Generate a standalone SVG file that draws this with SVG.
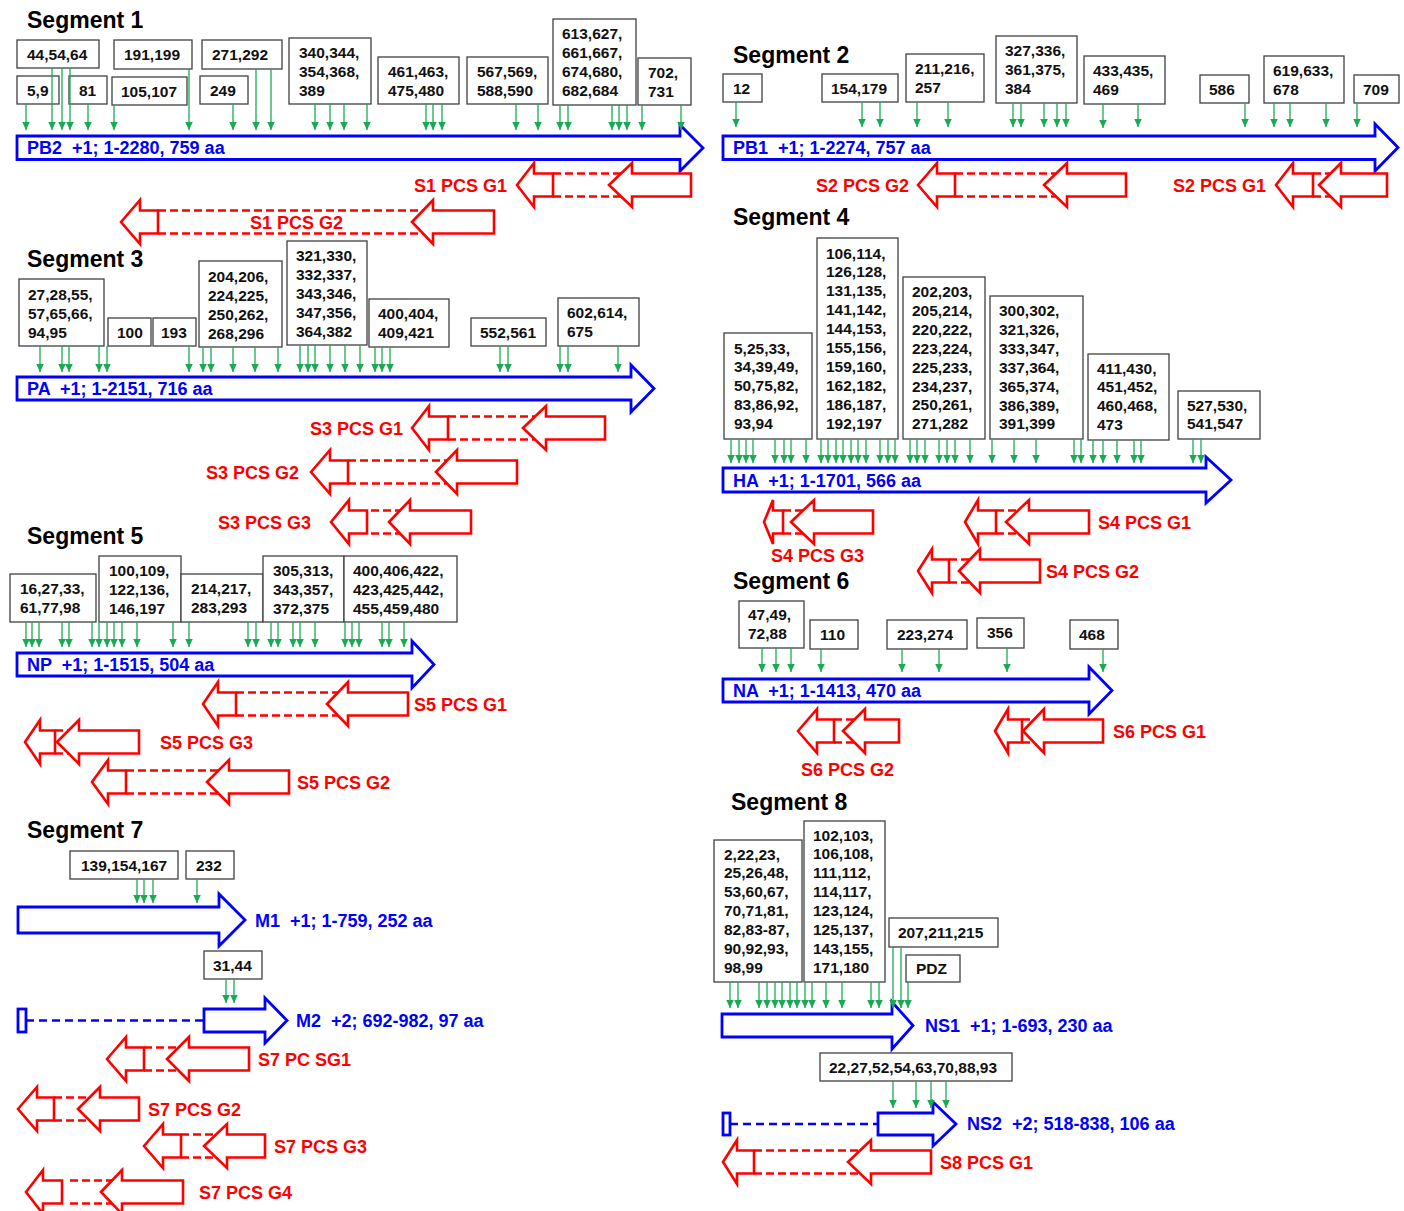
<svg xmlns="http://www.w3.org/2000/svg" width="1404" height="1211" viewBox="0 0 1404 1211">
<defs>
<marker id="gh" markerUnits="userSpaceOnUse" markerWidth="9" markerHeight="8" refX="8.5" refY="4" orient="auto">
<path d="M0,0 L8.5,4 L0,8 z" fill="#1aaa55"/>
</marker>
<style>
.title{font:bold 23px "Liberation Sans",Arial,sans-serif;fill:#000}
.box{fill:#fff;stroke:#404040;stroke-width:1.3}
.bt{font:bold 15.5px "Liberation Sans",Arial,sans-serif;fill:#111}
.gene{fill:none;stroke:#0000ff;stroke-width:2.8;stroke-linejoin:miter}
.gdash{fill:none;stroke:#0000ff;stroke-width:2.5;stroke-dasharray:8 5}
.gt{font:bold 18px "Liberation Sans",Arial,sans-serif;fill:#0000ff;white-space:pre}
.pcs{fill:none;stroke:#ff0000;stroke-width:2.6;stroke-linejoin:miter}
.pdash{fill:none;stroke:#ff0000;stroke-width:2.4;stroke-dasharray:8 4}
.pt{font:bold 18px "Liberation Sans",Arial,sans-serif;fill:#ff0000}
.ga{stroke:#1aaa55;stroke-width:1.3;marker-end:url(#gh)}
</style>
</defs>
<rect width="1404" height="1211" fill="#fff"/>

<!-- titles -->
<g id="titles">
<text class="title" x="27" y="28">Segment 1</text>
<text class="title" x="733" y="63">Segment 2</text>
<text class="title" x="27" y="267">Segment 3</text>
<text class="title" x="733" y="225">Segment 4</text>
<text class="title" x="27" y="544">Segment 5</text>
<text class="title" x="733" y="589">Segment 6</text>
<text class="title" x="27" y="838">Segment 7</text>
<text class="title" x="731" y="810">Segment 8</text>
</g>

<!-- Segment 1 boxes -->
<g id="s1-b1"><rect class="box" x="17" y="40" width="82" height="28"/><text class="bt" x="27" y="59.5">44,54,64</text></g>
<g id="s1-b2"><rect class="box" x="114" y="40" width="78" height="29"/><text class="bt" x="124" y="59.5">191,199</text></g>
<g id="s1-b3"><rect class="box" x="202" y="40" width="80" height="29"/><text class="bt" x="212" y="59.5">271,292</text></g>
<g id="s1-b4"><rect class="box" x="289" y="38" width="82" height="66"/><text class="bt" x="299" y="57.5">340,344,</text><text class="bt" x="299" y="76.5">354,368,</text><text class="bt" x="299" y="95.5">389</text></g>
<g id="s1-b5"><rect class="box" x="17" y="76" width="42" height="28"/><text class="bt" x="27" y="95.5">5,9</text></g>
<g id="s1-b6"><rect class="box" x="69" y="76" width="38" height="28"/><text class="bt" x="79" y="95.5">81</text></g>
<g id="s1-b7"><rect class="box" x="112" y="77" width="75" height="28"/><text class="bt" x="121" y="96.5">105,107</text></g>
<g id="s1-b8"><rect class="box" x="200" y="76" width="48" height="28"/><text class="bt" x="210" y="95.5">249</text></g>
<g id="s1-b9"><rect class="box" x="378" y="57" width="81" height="47"/><text class="bt" x="388" y="76.5">461,463,</text><text class="bt" x="388" y="95.5">475,480</text></g>
<g id="s1-b10"><rect class="box" x="467" y="57" width="81" height="47"/><text class="bt" x="477" y="76.5">567,569,</text><text class="bt" x="477" y="95.5">588,590</text></g>
<g id="s1-b11"><rect class="box" x="553" y="19" width="83" height="86"/><text class="bt" x="562" y="38.5">613,627,</text><text class="bt" x="562" y="57.5">661,667,</text><text class="bt" x="562" y="76.5">674,680,</text><text class="bt" x="562" y="95.5">682,684</text></g>
<g id="s1-b12"><rect class="box" x="638" y="58" width="53" height="47"/><text class="bt" x="648" y="77.5">702,</text><text class="bt" x="648" y="96.5">731</text></g>

<!-- Segment 2 boxes -->
<g id="s2-b1"><rect class="box" x="723" y="74" width="39" height="28"/><text class="bt" x="733" y="93.5">12</text></g>
<g id="s2-b2"><rect class="box" x="822" y="74" width="76" height="28"/><text class="bt" x="831" y="93.5">154,179</text></g>
<g id="s2-b3"><rect class="box" x="906" y="54" width="78" height="48"/><text class="bt" x="915" y="73.5">211,216,</text><text class="bt" x="915" y="92.5">257</text></g>
<g id="s2-b4"><rect class="box" x="996" y="36" width="81" height="67"/><text class="bt" x="1005" y="55.5">327,336,</text><text class="bt" x="1005" y="74.5">361,375,</text><text class="bt" x="1005" y="93.5">384</text></g>
<g id="s2-b5"><rect class="box" x="1084" y="56" width="81" height="48"/><text class="bt" x="1093" y="75.5">433,435,</text><text class="bt" x="1093" y="94.5">469</text></g>
<g id="s2-b6"><rect class="box" x="1200" y="75" width="49" height="28"/><text class="bt" x="1209" y="94.5">586</text></g>
<g id="s2-b7"><rect class="box" x="1264" y="56" width="80" height="47"/><text class="bt" x="1273" y="75.5">619,633,</text><text class="bt" x="1273" y="94.5">678</text></g>
<g id="s2-b8"><rect class="box" x="1354" y="75" width="45" height="28"/><text class="bt" x="1363" y="94.5">709</text></g>

<!-- Segment 3 boxes -->
<g id="s3-b1"><rect class="box" x="19" y="279" width="85" height="67"/><text class="bt" x="28" y="299.5">27,28,55,</text><text class="bt" x="28" y="318.5">57,65,66,</text><text class="bt" x="28" y="337.5">94,95</text></g>
<g id="s3-b2"><rect class="box" x="108" y="318" width="43" height="28"/><text class="bt" x="117" y="337.5">100</text></g>
<g id="s3-b3"><rect class="box" x="153" y="318" width="43" height="28"/><text class="bt" x="161" y="337.5">193</text></g>
<g id="s3-b4"><rect class="box" x="199" y="261" width="83" height="86"/><text class="bt" x="208" y="281.5">204,206,</text><text class="bt" x="208" y="300.5">224,225,</text><text class="bt" x="208" y="319.5">250,262,</text><text class="bt" x="208" y="338.5">268,296</text></g>
<g id="s3-b5"><rect class="box" x="287" y="241" width="80" height="104"/><text class="bt" x="296" y="261">321,330,</text><text class="bt" x="296" y="280">332,337,</text><text class="bt" x="296" y="299">343,346,</text><text class="bt" x="296" y="318">347,356,</text><text class="bt" x="296" y="337">364,382</text></g>
<g id="s3-b6"><rect class="box" x="369" y="299" width="80" height="48"/><text class="bt" x="378" y="319">400,404,</text><text class="bt" x="378" y="338">409,421</text></g>
<g id="s3-b7"><rect class="box" x="471" y="318" width="75" height="28"/><text class="bt" x="480" y="337.5">552,561</text></g>
<g id="s3-b8"><rect class="box" x="558" y="298" width="81" height="48"/><text class="bt" x="567" y="318">602,614,</text><text class="bt" x="567" y="337">675</text></g>

<!-- Segment 4 boxes -->
<g id="s4-b1"><rect class="box" x="724" y="333" width="88" height="106"/><text class="bt" x="734" y="353.5">5,25,33,</text><text class="bt" x="734" y="372.3">34,39,49,</text><text class="bt" x="734" y="391.1">50,75,82,</text><text class="bt" x="734" y="409.9">83,86,92,</text><text class="bt" x="734" y="428.7">93,94</text></g>
<g id="s4-b2"><rect class="box" x="817" y="238" width="81" height="201"/><text class="bt" x="826" y="258.5">106,114,</text><text class="bt" x="826" y="277.4">126,128,</text><text class="bt" x="826" y="296.3">131,135,</text><text class="bt" x="826" y="315.2">141,142,</text><text class="bt" x="826" y="334.1">144,153,</text><text class="bt" x="826" y="353">155,156,</text><text class="bt" x="826" y="371.9">159,160,</text><text class="bt" x="826" y="390.8">162,182,</text><text class="bt" x="826" y="409.7">186,187,</text><text class="bt" x="826" y="428.6">192,197</text></g>
<g id="s4-b3"><rect class="box" x="903" y="277" width="82" height="162"/><text class="bt" x="912" y="297">202,203,</text><text class="bt" x="912" y="315.9">205,214,</text><text class="bt" x="912" y="334.8">220,222,</text><text class="bt" x="912" y="353.7">223,224,</text><text class="bt" x="912" y="372.6">225,233,</text><text class="bt" x="912" y="391.5">234,237,</text><text class="bt" x="912" y="410.4">250,261,</text><text class="bt" x="912" y="429.3">271,282</text></g>
<g id="s4-b4"><rect class="box" x="990" y="296" width="93" height="143"/><text class="bt" x="999" y="316">300,302,</text><text class="bt" x="999" y="334.9">321,326,</text><text class="bt" x="999" y="353.8">333,347,</text><text class="bt" x="999" y="372.7">337,364,</text><text class="bt" x="999" y="391.6">365,374,</text><text class="bt" x="999" y="410.5">386,389,</text><text class="bt" x="999" y="429.4">391,399</text></g>
<g id="s4-b5"><rect class="box" x="1088" y="354" width="81" height="86"/><text class="bt" x="1097" y="373.5">411,430,</text><text class="bt" x="1097" y="392.4">451,452,</text><text class="bt" x="1097" y="411.3">460,468,</text><text class="bt" x="1097" y="430.2">473</text></g>
<g id="s4-b6"><rect class="box" x="1178" y="391" width="82" height="48"/><text class="bt" x="1187" y="410.5">527,530,</text><text class="bt" x="1187" y="429.4">541,547</text></g>

<!-- Segment 5 boxes -->
<g id="s5-b1"><rect class="box" x="10" y="574" width="86" height="48"/><text class="bt" x="20" y="594">16,27,33,</text><text class="bt" x="20" y="613">61,77,98</text></g>
<g id="s5-b2"><rect class="box" x="99" y="556" width="82" height="66"/><text class="bt" x="109" y="575.5">100,109,</text><text class="bt" x="109" y="594.5">122,136,</text><text class="bt" x="109" y="613.5">146,197</text></g>
<g id="s5-b3"><rect class="box" x="181" y="574" width="82" height="48"/><text class="bt" x="191" y="594">214,217,</text><text class="bt" x="191" y="613">283,293</text></g>
<g id="s5-b4"><rect class="box" x="263" y="556" width="81" height="66"/><text class="bt" x="273" y="575.5">305,313,</text><text class="bt" x="273" y="594.5">343,357,</text><text class="bt" x="273" y="613.5">372,375</text></g>
<g id="s5-b5"><rect class="box" x="344" y="556" width="113" height="66"/><text class="bt" x="353" y="575.5">400,406,422,</text><text class="bt" x="353" y="594.5">423,425,442,</text><text class="bt" x="353" y="613.5">455,459,480</text></g>

<!-- Segment 6 boxes -->
<g id="s6-b1"><rect class="box" x="739" y="601" width="65" height="47"/><text class="bt" x="748" y="619.5">47,49,</text><text class="bt" x="748" y="638.5">72,88</text></g>
<g id="s6-b2"><rect class="box" x="810" y="620" width="48" height="29"/><text class="bt" x="820" y="639.5">110</text></g>
<g id="s6-b3"><rect class="box" x="887" y="620" width="80" height="29"/><text class="bt" x="897" y="639.5">223,274</text></g>
<g id="s6-b4"><rect class="box" x="977" y="618" width="47" height="30"/><text class="bt" x="987" y="637.5">356</text></g>
<g id="s6-b5"><rect class="box" x="1070" y="620" width="48" height="29"/><text class="bt" x="1079" y="639.5">468</text></g>

<!-- Segment 7 boxes -->
<g id="s7-b1"><rect class="box" x="70" y="851" width="108" height="28"/><text class="bt" x="81" y="870.5">139,154,167</text></g>
<g id="s7-b2"><rect class="box" x="186" y="851" width="48" height="28"/><text class="bt" x="196" y="870.5">232</text></g>
<g id="s7-b3"><rect class="box" x="204" y="951" width="58" height="28"/><text class="bt" x="213" y="970.5">31,44</text></g>

<!-- Segment 8 boxes -->
<g id="s8-b1"><rect class="box" x="714" y="840" width="88" height="142"/><text class="bt" x="724" y="859.5">2,22,23,</text><text class="bt" x="724" y="878.4">25,26,48,</text><text class="bt" x="724" y="897.3">53,60,67,</text><text class="bt" x="724" y="916.2">70,71,81,</text><text class="bt" x="724" y="935.1">82,83-87,</text><text class="bt" x="724" y="954">90,92,93,</text><text class="bt" x="724" y="972.9">98,99</text></g>
<g id="s8-b2"><rect class="box" x="804" y="821" width="81" height="161"/><text class="bt" x="813" y="840.5">102,103,</text><text class="bt" x="813" y="859.4">106,108,</text><text class="bt" x="813" y="878.3">111,112,</text><text class="bt" x="813" y="897.2">114,117,</text><text class="bt" x="813" y="916.1">123,124,</text><text class="bt" x="813" y="935">125,137,</text><text class="bt" x="813" y="953.9">143,155,</text><text class="bt" x="813" y="972.8">171,180</text></g>
<g id="s8-b3"><rect class="box" x="889" y="918" width="109" height="29"/><text class="bt" x="898" y="937.5">207,211,215</text></g>
<g id="s8-b4"><rect class="box" x="906" y="955" width="54" height="27"/><text class="bt" x="916" y="974">PDZ</text></g>
<g id="s8-b5"><rect class="box" x="820" y="1053" width="192" height="28"/><text class="bt" x="829" y="1072.5">22,27,52,54,63,70,88,93</text></g>

<!-- genes (blue) -->
<g id="gene-PB2"><polygon class="gene" points="17,136 680,136 680,125 703,148 680,171 680,159.5 17,159.5"/><text class="gt" x="27" y="154">PB2  +1; 1-2280, 759 aa</text></g>
<g id="gene-PB1"><polygon class="gene" points="723,136 1375,136 1375,124 1398,147.5 1375,171 1375,159.5 723,159.5"/><text class="gt" x="733" y="154">PB1  +1; 1-2274, 757 aa</text></g>
<g id="gene-PA"><polygon class="gene" points="17,377 631,377 631,365 654,388.5 631,412 631,400 17,400"/><text class="gt" x="27" y="395">PA  +1; 1-2151, 716 aa</text></g>
<g id="gene-HA"><polygon class="gene" points="723,468 1206,468 1206,457 1231,480 1206,503 1206,492 723,492"/><text class="gt" x="733" y="487">HA  +1; 1-1701, 566 aa</text></g>
<g id="gene-NP"><polygon class="gene" points="17,653 412,653 412,641 434,664.5 412,688 412,676 17,676"/><text class="gt" x="27" y="671">NP  +1; 1-1515, 504 aa</text></g>
<g id="gene-NA"><polygon class="gene" points="723,679 1089,679 1089,667 1112,690.5 1089,714 1089,702 723,702"/><text class="gt" x="733" y="697">NA  +1; 1-1413, 470 aa</text></g>
<g id="gene-M1"><polygon class="gene" points="18,907 219,907 219,894 245,920 219,946 219,933 18,933"/><text class="gt" x="255" y="927">M1  +1; 1-759, 252 aa</text></g>
<g id="gene-M2"><rect class="gene" x="18" y="1009" width="8" height="23"/><line class="gdash" x1="26" y1="1020.5" x2="204" y2="1020.5"/><polygon class="gene" points="204,1009 265,1009 265,998 287,1020.5 265,1043 265,1032 204,1032"/><text class="gt" x="296" y="1027">M2  +2; 692-982, 97 aa</text></g>
<g id="gene-NS1"><polygon class="gene" points="722,1014 892,1014 892,1002 913,1025.5 892,1049 892,1037 722,1037"/><text class="gt" x="925" y="1032">NS1  +1; 1-693, 230 aa</text></g>
<g id="gene-NS2"><rect class="gene" x="723" y="1113" width="7" height="22"/><line class="gdash" x1="730" y1="1124" x2="878" y2="1124"/><polygon class="gene" points="878,1113 933,1113 933,1102 956,1124 933,1146 933,1135 878,1135"/><text class="gt" x="967" y="1130">NS2  +2; 518-838, 106 aa</text></g>

<!-- PCS (red) -->
<g id="pcs-S1G1"><polygon class="pcs" points="517,185 534,163 534,173.5 553,173.5 553,196.5 534,196.5 534,207"/><path class="pdash" d="M553,173.5H621M553,196.5H621"/><polygon class="pcs" points="609,185 632,163 632,173.5 691,173.5 691,196.5 632,196.5 632,207"/><text class="pt" x="507" y="191.5" text-anchor="end">S1 PCS G1</text></g>
<g id="pcs-S1G2"><polygon class="pcs" points="121,222 140,200 140,210.5 158,210.5 158,233.5 140,233.5 140,244"/><path class="pdash" d="M158,210.5H423M158,233.5H423"/><polygon class="pcs" points="412,222 433,200 433,210.5 494,210.5 494,233.5 433,233.5 433,244"/><text class="pt" x="250" y="228.5">S1 PCS G2</text></g>
<g id="pcs-S2G2"><polygon class="pcs" points="918,185 937,163 937,173.5 955,173.5 955,196.5 937,196.5 937,207"/><path class="pdash" d="M955,173.5H1056M955,196.5H1056"/><polygon class="pcs" points="1044,185 1067,163 1067,173.5 1126,173.5 1126,196.5 1067,196.5 1067,207"/><text class="pt" x="909" y="191.5" text-anchor="end">S2 PCS G2</text></g>
<g id="pcs-S2G1"><polygon class="pcs" points="1276,185 1293,163 1293,173.5 1313,173.5 1313,196.5 1293,196.5 1293,207"/><path class="pdash" d="M1313,173.5H1330M1313,196.5H1330"/><polygon class="pcs" points="1319,185 1341,163 1341,173.5 1387,173.5 1387,196.5 1341,196.5 1341,207"/><text class="pt" x="1266" y="191.5" text-anchor="end">S2 PCS G1</text></g>
<g id="pcs-S3G1"><polygon class="pcs" points="412,428 429,406 429,416.5 448,416.5 448,439.5 429,439.5 429,450"/><path class="pdash" d="M448,416.5H535M448,439.5H535"/><polygon class="pcs" points="523,428 546,406 546,416.5 605,416.5 605,439.5 546,439.5 546,450"/><text class="pt" x="403" y="434.5" text-anchor="end">S3 PCS G1</text></g>
<g id="pcs-S3G2"><polygon class="pcs" points="311,472 330,450 330,460.5 348,460.5 348,483.5 330,483.5 330,494"/><path class="pdash" d="M348,460.5H447M348,483.5H447"/><polygon class="pcs" points="436,472 457,450 457,460.5 517,460.5 517,483.5 457,483.5 457,494"/><text class="pt" x="299" y="478.5" text-anchor="end">S3 PCS G2</text></g>
<g id="pcs-S3G3"><polygon class="pcs" points="331,522 349,500 349,510.5 367,510.5 367,533.5 349,533.5 349,544"/><path class="pdash" d="M371,510.5H400M371,533.5H400"/><polygon class="pcs" points="389,522 410,500 410,510.5 471,510.5 471,533.5 410,533.5 410,544"/><text class="pt" x="311" y="528.5" text-anchor="end">S3 PCS G3</text></g>
<g id="pcs-S4G1"><polygon class="pcs" points="965,522 978,500 978,510.5 996,510.5 996,533.5 978,533.5 978,544"/><path class="pdash" d="M996,510.5H1018M996,533.5H1018"/><polygon class="pcs" points="1006,522 1029,500 1029,510.5 1089,510.5 1089,533.5 1029,533.5 1029,544"/><text class="pt" x="1098" y="528.5">S4 PCS G1</text></g>
<g id="pcs-S4G3"><polygon class="pcs" points="764,522 773,500 773,510.5 783,510.5 783,533.5 773,533.5 773,544"/><path class="pdash" d="M783,510.5H803M783,533.5H803"/><polygon class="pcs" points="791,522 814,500 814,510.5 873,510.5 873,533.5 814,533.5 814,544"/><text class="pt" x="771" y="562">S4 PCS G3</text></g>
<g id="pcs-S4G2"><polygon class="pcs" points="918,571 932,549 932,559.5 949,559.5 949,582.5 932,582.5 932,593"/><path class="pdash" d="M949,559.5H970M949,582.5H970"/><polygon class="pcs" points="959,571 980,549 980,559.5 1040,559.5 1040,582.5 980,582.5 980,593"/><text class="pt" x="1046" y="577.5">S4 PCS G2</text></g>
<g id="pcs-S5G1"><polygon class="pcs" points="203,704 218,682 218,692.5 236,692.5 236,715.5 218,715.5 218,726"/><path class="pdash" d="M236,692.5H338M236,715.5H338"/><polygon class="pcs" points="327,704 348,682 348,692.5 408,692.5 408,715.5 348,715.5 348,726"/><text class="pt" x="414" y="710.5">S5 PCS G1</text></g>
<g id="pcs-S5G3"><polygon class="pcs" points="25,742 40,720 40,730.5 55,730.5 55,753.5 40,753.5 40,764"/><path class="pdash" d="M55,730.5H68M55,753.5H68"/><polygon class="pcs" points="57,742 79,720 79,730.5 139,730.5 139,753.5 79,753.5 79,764"/><text class="pt" x="160" y="748.5">S5 PCS G3</text></g>
<g id="pcs-S5G2"><polygon class="pcs" points="92,782 108,760 108,770.5 126,770.5 126,793.5 108,793.5 108,804"/><path class="pdash" d="M126,770.5H218M126,793.5H218"/><polygon class="pcs" points="207,782 229,760 229,770.5 289,770.5 289,793.5 229,793.5 229,804"/><text class="pt" x="297" y="788.5">S5 PCS G2</text></g>
<g id="pcs-S6G2"><polygon class="pcs" points="798,731 817,709 817,719.5 834,719.5 834,742.5 817,742.5 817,753"/><path class="pdash" d="M834,719.5H854M834,742.5H854"/><polygon class="pcs" points="843,731 865,709 865,719.5 899,719.5 899,742.5 865,742.5 865,753"/><text class="pt" x="801" y="776">S6 PCS G2</text></g>
<g id="pcs-S6G1"><polygon class="pcs" points="995,731 1008,709 1008,719.5 1022,719.5 1022,742.5 1008,742.5 1008,753"/><path class="pdash" d="M1022,719.5H1034M1022,742.5H1034"/><polygon class="pcs" points="1023,731 1044,709 1044,719.5 1103,719.5 1103,742.5 1044,742.5 1044,753"/><text class="pt" x="1113" y="737.5">S6 PCS G1</text></g>
<g id="pcs-S7SG1"><polygon class="pcs" points="107,1059 126,1037 126,1047.5 144,1047.5 144,1070.5 126,1070.5 126,1081"/><path class="pdash" d="M144,1047.5H178M144,1070.5H178"/><polygon class="pcs" points="167,1059 189,1037 189,1047.5 249,1047.5 249,1070.5 189,1070.5 189,1081"/><text class="pt" x="258" y="1065.5">S7 PC SG1</text></g>
<g id="pcs-S7G2"><polygon class="pcs" points="18,1109 37,1087 37,1097.5 54,1097.5 54,1120.5 37,1120.5 37,1131"/><path class="pdash" d="M54,1097.5H89M54,1120.5H89"/><polygon class="pcs" points="78,1109 100,1087 100,1097.5 139,1097.5 139,1120.5 100,1120.5 100,1131"/><text class="pt" x="148" y="1115.5">S7 PCS G2</text></g>
<g id="pcs-S7G3"><polygon class="pcs" points="144,1146 163,1124 163,1134.5 181,1134.5 181,1157.5 163,1157.5 163,1168"/><path class="pdash" d="M181,1134.5H216M181,1157.5H216"/><polygon class="pcs" points="204,1146 227,1124 227,1134.5 265,1134.5 265,1157.5 227,1157.5 227,1168"/><text class="pt" x="274" y="1152.5">S7 PCS G3</text></g>
<g id="pcs-S7G4"><polygon class="pcs" points="26,1192 43,1170 43,1180.5 62,1180.5 62,1203.5 43,1203.5 43,1214"/><path class="pdash" d="M70,1180.5H112M70,1203.5H112"/><polygon class="pcs" points="101,1192 122,1170 122,1180.5 183,1180.5 183,1203.5 122,1203.5 122,1214"/><text class="pt" x="199" y="1198.5">S7 PCS G4</text></g>
<g id="pcs-S8G1"><polygon class="pcs" points="723,1162 737,1140 737,1150.5 754,1150.5 754,1173.5 737,1173.5 737,1184"/><path class="pdash" d="M754,1150.5H860M754,1173.5H860"/><polygon class="pcs" points="848,1162 871,1140 871,1150.5 931,1150.5 931,1173.5 871,1173.5 871,1184"/><text class="pt" x="940" y="1168.5">S8 PCS G1</text></g>

<!-- connectors (green) -->
<g id="connectors">
<line class="ga" x1="26" y1="104" x2="26" y2="130"/>
<line class="ga" x1="52" y1="68" x2="52" y2="130"/>
<line class="ga" x1="62" y1="68" x2="62" y2="130"/>
<line class="ga" x1="70" y1="68" x2="70" y2="130"/>
<line class="ga" x1="88" y1="104" x2="88" y2="130"/>
<line class="ga" x1="114" y1="105" x2="114" y2="130"/>
<line class="ga" x1="189" y1="69" x2="189" y2="130"/>
<line class="ga" x1="233" y1="104" x2="233" y2="130"/>
<line class="ga" x1="256" y1="69" x2="256" y2="130"/>
<line class="ga" x1="271" y1="69" x2="271" y2="130"/>
<line class="ga" x1="315" y1="104" x2="315" y2="130"/>
<line class="ga" x1="330" y1="104" x2="330" y2="130"/>
<line class="ga" x1="344" y1="104" x2="344" y2="130"/>
<line class="ga" x1="367" y1="104" x2="367" y2="130"/>
<line class="ga" x1="426" y1="104" x2="426" y2="130"/>
<line class="ga" x1="433" y1="104" x2="433" y2="130"/>
<line class="ga" x1="442" y1="104" x2="442" y2="130"/>
<line class="ga" x1="516" y1="104" x2="516" y2="130"/>
<line class="ga" x1="538" y1="104" x2="538" y2="130"/>
<line class="ga" x1="560" y1="105" x2="560" y2="130"/>
<line class="ga" x1="568" y1="105" x2="568" y2="130"/>
<line class="ga" x1="612" y1="105" x2="612" y2="130"/>
<line class="ga" x1="619" y1="105" x2="619" y2="130"/>
<line class="ga" x1="627" y1="105" x2="627" y2="130"/>
<line class="ga" x1="642" y1="105" x2="642" y2="130"/>
<line class="ga" x1="681" y1="105" x2="681" y2="130"/>

<line class="ga" x1="736" y1="102" x2="736" y2="127"/>
<line class="ga" x1="862" y1="102" x2="862" y2="127"/>
<line class="ga" x1="880" y1="102" x2="880" y2="127"/>
<line class="ga" x1="917" y1="102" x2="917" y2="127"/>
<line class="ga" x1="948" y1="102" x2="948" y2="127"/>
<line class="ga" x1="1013" y1="103" x2="1013" y2="127"/>
<line class="ga" x1="1021" y1="103" x2="1021" y2="127"/>
<line class="ga" x1="1044" y1="103" x2="1044" y2="127"/>
<line class="ga" x1="1057" y1="103" x2="1057" y2="127"/>
<line class="ga" x1="1066" y1="103" x2="1066" y2="127"/>
<line class="ga" x1="1103" y1="104" x2="1103" y2="128"/>
<line class="ga" x1="1138" y1="104" x2="1138" y2="127"/>
<line class="ga" x1="1245" y1="103" x2="1245" y2="127"/>
<line class="ga" x1="1274" y1="103" x2="1274" y2="127"/>
<line class="ga" x1="1290" y1="103" x2="1290" y2="127"/>
<line class="ga" x1="1326" y1="103" x2="1326" y2="127"/>
<line class="ga" x1="1357" y1="103" x2="1357" y2="127"/>

<line class="ga" x1="40" y1="346" x2="40" y2="372"/>
<line class="ga" x1="62" y1="346" x2="62" y2="372"/>
<line class="ga" x1="69" y1="346" x2="69" y2="372"/>
<line class="ga" x1="99" y1="346" x2="99" y2="372"/>
<line class="ga" x1="107" y1="346" x2="107" y2="372"/>
<line class="ga" x1="189" y1="346" x2="189" y2="372"/>
<line class="ga" x1="203" y1="347" x2="203" y2="372"/>
<line class="ga" x1="211" y1="347" x2="211" y2="372"/>
<line class="ga" x1="233" y1="347" x2="233" y2="372"/>
<line class="ga" x1="255" y1="347" x2="255" y2="372"/>
<line class="ga" x1="278" y1="347" x2="278" y2="372"/>
<line class="ga" x1="300" y1="345" x2="300" y2="372"/>
<line class="ga" x1="308" y1="345" x2="308" y2="372"/>
<line class="ga" x1="315" y1="345" x2="315" y2="372"/>
<line class="ga" x1="330" y1="345" x2="330" y2="372"/>
<line class="ga" x1="345" y1="345" x2="345" y2="372"/>
<line class="ga" x1="360" y1="345" x2="360" y2="372"/>
<line class="ga" x1="375" y1="347" x2="375" y2="372"/>
<line class="ga" x1="382" y1="347" x2="382" y2="372"/>
<line class="ga" x1="390" y1="347" x2="390" y2="372"/>
<line class="ga" x1="500" y1="346" x2="500" y2="372"/>
<line class="ga" x1="508" y1="346" x2="508" y2="372"/>
<line class="ga" x1="560" y1="346" x2="560" y2="372"/>
<line class="ga" x1="568" y1="346" x2="568" y2="372"/>
<line class="ga" x1="618" y1="346" x2="618" y2="372"/>

<line class="ga" x1="731" y1="439" x2="731" y2="463"/>
<line class="ga" x1="739" y1="439" x2="739" y2="463"/>
<line class="ga" x1="746" y1="439" x2="746" y2="463"/>
<line class="ga" x1="753" y1="439" x2="753" y2="463"/>
<line class="ga" x1="775" y1="439" x2="775" y2="463"/>
<line class="ga" x1="784" y1="439" x2="784" y2="463"/>
<line class="ga" x1="791" y1="439" x2="791" y2="463"/>
<line class="ga" x1="806" y1="439" x2="806" y2="463"/>
<line class="ga" x1="821" y1="439" x2="821" y2="463"/>
<line class="ga" x1="828" y1="439" x2="828" y2="463"/>
<line class="ga" x1="836" y1="439" x2="836" y2="463"/>
<line class="ga" x1="843" y1="439" x2="843" y2="463"/>
<line class="ga" x1="851" y1="439" x2="851" y2="463"/>
<line class="ga" x1="858" y1="439" x2="858" y2="463"/>
<line class="ga" x1="866" y1="439" x2="866" y2="463"/>
<line class="ga" x1="880" y1="439" x2="880" y2="463"/>
<line class="ga" x1="888" y1="439" x2="888" y2="463"/>
<line class="ga" x1="895" y1="439" x2="895" y2="463"/>
<line class="ga" x1="910" y1="439" x2="910" y2="463"/>
<line class="ga" x1="917" y1="439" x2="917" y2="463"/>
<line class="ga" x1="925" y1="439" x2="925" y2="463"/>
<line class="ga" x1="939" y1="439" x2="939" y2="463"/>
<line class="ga" x1="947" y1="439" x2="947" y2="463"/>
<line class="ga" x1="955" y1="439" x2="955" y2="463"/>
<line class="ga" x1="970" y1="439" x2="970" y2="463"/>
<line class="ga" x1="992" y1="439" x2="992" y2="463"/>
<line class="ga" x1="1014" y1="439" x2="1014" y2="463"/>
<line class="ga" x1="1036" y1="439" x2="1036" y2="463"/>
<line class="ga" x1="1074" y1="439" x2="1074" y2="463"/>
<line class="ga" x1="1081" y1="439" x2="1081" y2="463"/>
<line class="ga" x1="1093" y1="440" x2="1093" y2="463"/>
<line class="ga" x1="1103" y1="440" x2="1103" y2="463"/>
<line class="ga" x1="1117" y1="440" x2="1117" y2="463"/>
<line class="ga" x1="1134" y1="440" x2="1134" y2="463"/>
<line class="ga" x1="1141" y1="440" x2="1141" y2="463"/>
<line class="ga" x1="1193" y1="439" x2="1193" y2="463"/>
<line class="ga" x1="1201" y1="439" x2="1201" y2="463"/>

<line class="ga" x1="26" y1="622" x2="26" y2="647"/>
<line class="ga" x1="32" y1="622" x2="32" y2="647"/>
<line class="ga" x1="39" y1="622" x2="39" y2="647"/>
<line class="ga" x1="62" y1="622" x2="62" y2="647"/>
<line class="ga" x1="69" y1="622" x2="69" y2="647"/>
<line class="ga" x1="92" y1="622" x2="92" y2="647"/>
<line class="ga" x1="99" y1="622" x2="99" y2="647"/>
<line class="ga" x1="107" y1="622" x2="107" y2="647"/>
<line class="ga" x1="114" y1="622" x2="114" y2="647"/>
<line class="ga" x1="122" y1="622" x2="122" y2="647"/>
<line class="ga" x1="137" y1="622" x2="137" y2="647"/>
<line class="ga" x1="173" y1="622" x2="173" y2="647"/>
<line class="ga" x1="189" y1="622" x2="189" y2="647"/>
<line class="ga" x1="248" y1="622" x2="248" y2="647"/>
<line class="ga" x1="256" y1="622" x2="256" y2="647"/>
<line class="ga" x1="271" y1="622" x2="271" y2="647"/>
<line class="ga" x1="278" y1="622" x2="278" y2="647"/>
<line class="ga" x1="293" y1="622" x2="293" y2="647"/>
<line class="ga" x1="300" y1="622" x2="300" y2="647"/>
<line class="ga" x1="315" y1="622" x2="315" y2="647"/>
<line class="ga" x1="345" y1="622" x2="345" y2="647"/>
<line class="ga" x1="352" y1="622" x2="352" y2="647"/>
<line class="ga" x1="359" y1="622" x2="359" y2="647"/>
<line class="ga" x1="382" y1="622" x2="382" y2="647"/>
<line class="ga" x1="389" y1="622" x2="389" y2="647"/>
<line class="ga" x1="404" y1="622" x2="404" y2="647"/>

<line class="ga" x1="762" y1="648" x2="762" y2="672"/>
<line class="ga" x1="776" y1="648" x2="776" y2="672"/>
<line class="ga" x1="791" y1="648" x2="791" y2="672"/>
<line class="ga" x1="821" y1="649" x2="821" y2="672"/>
<line class="ga" x1="902" y1="649" x2="902" y2="672"/>
<line class="ga" x1="939" y1="649" x2="939" y2="672"/>
<line class="ga" x1="1007" y1="648" x2="1007" y2="672"/>
<line class="ga" x1="1103" y1="649" x2="1103" y2="672"/>

<line class="ga" x1="137" y1="879" x2="137" y2="903"/>
<line class="ga" x1="144" y1="879" x2="144" y2="903"/>
<line class="ga" x1="153" y1="879" x2="153" y2="903"/>
<line class="ga" x1="197" y1="879" x2="197" y2="903"/>
<line class="ga" x1="226" y1="979" x2="226" y2="1003"/>
<line class="ga" x1="234" y1="979" x2="234" y2="1003"/>

<line class="ga" x1="730" y1="982" x2="730" y2="1008"/>
<line class="ga" x1="738" y1="982" x2="738" y2="1008"/>
<line class="ga" x1="759" y1="982" x2="759" y2="1008"/>
<line class="ga" x1="767" y1="982" x2="767" y2="1008"/>
<line class="ga" x1="775" y1="982" x2="775" y2="1008"/>
<line class="ga" x1="782" y1="982" x2="782" y2="1008"/>
<line class="ga" x1="790" y1="982" x2="790" y2="1008"/>
<line class="ga" x1="797" y1="982" x2="797" y2="1008"/>
<line class="ga" x1="805" y1="982" x2="805" y2="1008"/>
<line class="ga" x1="812" y1="982" x2="812" y2="1008"/>
<line class="ga" x1="826" y1="982" x2="826" y2="1008"/>
<line class="ga" x1="842" y1="982" x2="842" y2="1008"/>
<line class="ga" x1="871" y1="982" x2="871" y2="1008"/>
<line class="ga" x1="879" y1="982" x2="879" y2="1008"/>
<line class="ga" x1="893" y1="947" x2="893" y2="1008"/>
<line class="ga" x1="901" y1="947" x2="901" y2="1008"/>
<line class="ga" x1="908" y1="982" x2="908" y2="1008"/>

<line class="ga" x1="893" y1="1081" x2="893" y2="1108"/>
<line class="ga" x1="916" y1="1081" x2="916" y2="1108"/>
<line class="ga" x1="931" y1="1081" x2="931" y2="1108"/>
<line class="ga" x1="946" y1="1081" x2="946" y2="1108"/>
</g>
</svg>
